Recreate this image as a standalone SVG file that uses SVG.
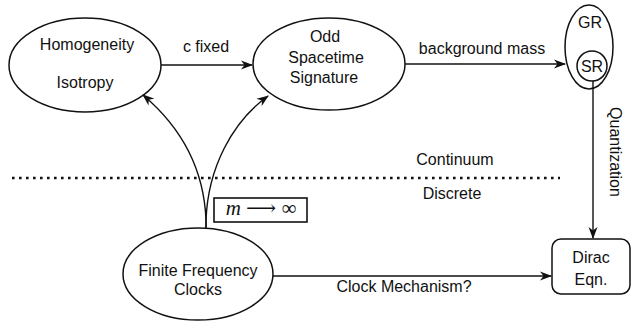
<svg xmlns="http://www.w3.org/2000/svg" width="633" height="322" viewBox="0 0 633 322">
<defs>
<style>
.n{fill:none;stroke:#111;stroke-width:1.5}
.c{fill:none;stroke:#111;stroke-width:1.4}
text{font-family:"Liberation Sans","DejaVu Sans",sans-serif;font-size:16px;fill:#111;text-anchor:middle}
</style>
<marker id="ah" viewBox="0 0 12 10" refX="11" refY="5" markerWidth="12" markerHeight="10" markerUnits="userSpaceOnUse" orient="auto">
<path d="M0,0.5 L12,5 L0,9.5 L3.5,5 z" fill="#111"/>
</marker>
</defs>
<rect width="633" height="322" fill="#fff"/>
<g id="homogeneity">
<ellipse class="n" cx="85" cy="65" rx="76" ry="47"/>
<text x="87" y="50">Homogeneity</text>
<text x="85" y="88">Isotropy</text>
</g>
<g id="odd-signature">
<ellipse class="n" cx="329" cy="64" rx="76" ry="46"/>
<text x="325" y="42">Odd</text>
<text x="326" y="63">Spacetime</text>
<text x="324" y="83">Signature</text>
</g>
<g id="gr-sr">
<ellipse class="n" cx="589" cy="47" rx="24" ry="42"/>
<text x="590" y="28">GR</text>
<circle class="n" cx="592" cy="66" r="15"/>
<text x="592" y="72">SR</text>
</g>
<g id="finite-clocks">
<ellipse class="n" cx="198" cy="274" rx="75" ry="46"/>
<text x="198" y="276">Finite Frequency</text>
<text x="198" y="295">Clocks</text>
</g>
<g id="dirac">
<rect class="n" x="552" y="239" width="78" height="55" rx="9"/>
<text x="591" y="263">Dirac</text>
<text x="591" y="285">Eqn.</text>
</g>
<g id="regions">
<line x1="12" y1="178" x2="560" y2="178" stroke="#111" stroke-width="2.6" stroke-dasharray="2.6 4.4"/>
<text x="455" y="165">Continuum</text>
<text x="452" y="199">Discrete</text>
</g>
<g id="connectors">
<line class="c" x1="161" y1="65" x2="252" y2="65" marker-end="url(#ah)"/>
<text x="206" y="52">c fixed</text>
<line class="c" x1="405" y1="64" x2="565" y2="64" marker-end="url(#ah)"/>
<text x="482" y="54">background mass</text>
<line class="c" x1="593" y1="81" x2="593" y2="238" marker-end="url(#ah)"/>
<text x="0" y="0" transform="translate(610,152) rotate(90)">Quantization</text>
<line class="c" x1="273" y1="276" x2="551" y2="276" marker-end="url(#ah)"/>
<text x="404" y="292">Clock Mechanism?</text>
<path class="c" d="M206,228 L206,220 C204,170 182,128 143,95" marker-end="url(#ah)"/>
<path class="c" d="M206,228 L206,220 C208,168 232,122 268,96" marker-end="url(#ah)"/>
<rect x="214" y="198" width="93" height="24" fill="#fff" stroke="#111" stroke-width="1.6"/>
<text x="261" y="215" style="font-family:'Liberation Serif','DejaVu Serif',serif;font-size:21px"><tspan font-style="italic">m</tspan> ⟶ ∞</text>
</g>
</svg>
